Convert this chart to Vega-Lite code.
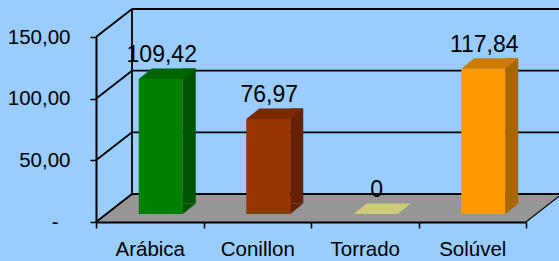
{
  "$schema": "https://vega.github.io/schema/vega-lite/v6.json",
  "width": 430,
  "height": 185,
  "autosize": {"type": "none"},
  "padding": {"left": 96, "top": 37, "right": 33, "bottom": 39},
  "background": "#99CCFF",
  "config": {
    "view": {"stroke": null},
    "font": "Liberation Sans",
    "locale": {"number": {"decimal": ",", "thousands": ".", "grouping": [3], "currency": ["", ""]}},
    "axisX": {"labelAngle": 0, "labelFontSize": 20.5, "labelColor": "#000000", "labelPadding": 11, "domainColor": "#000000", "domainWidth": 2, "tickColor": "#000000", "tickWidth": 1.5, "tickSize": 6, "tickBand": "extent", "grid": false},
    "axisY": {"labelFontSize": 20.5, "labelColor": "#000000", "domainColor": "#000000", "domainWidth": 2, "tickColor": "#000000", "tickWidth": 1.5, "tickSize": 6, "grid": false}
  },
  "datasets": {
    "cafe": [
      {"tipo": "Arábica", "valor": 109.42},
      {"tipo": "Conillon", "valor": 76.97},
      {"tipo": "Torrado", "valor": 0},
      {"tipo": "Solúvel", "valor": 117.84}
    ],
    "grade": [{"v": 0}, {"v": 50}, {"v": 100}, {"v": 150}],
    "piso": [{"parte": "chão"}]
  },
  "resolve": {"scale": {"color": "independent"}},
  "layer": [
    {
      "data": {"name": "piso"},
      "mark": {"type": "point", "shape": "M0,0 L430,0 L466,-28 L36,-28 Z", "size": 4, "filled": true, "fill": "#969696", "stroke": "#000000", "strokeWidth": 1.2, "opacity": 1},
      "encoding": {
        "x": {"datum": "Arábica", "type": "nominal", "bandPosition": 0, "title": null, "scale": {"domain": ["Arábica", "Conillon", "Torrado", "Solúvel"], "paddingInner": 0, "paddingOuter": 0}},
        "y": {"datum": 0, "type": "quantitative", "title": null, "scale": {"domain": [0, 150], "nice": false}, "axis": {"values": [0, 50, 100, 150], "format": ".2f", "labelExpr": "datum.value === 0 ? '-' : datum.label", "labelPadding": {"condition": {"test": "datum.value === 0", "value": 32}, "value": 20}}}
      }
    },
    {
      "data": {"name": "grade"},
      "mark": {"type": "rule", "color": "#000000", "strokeWidth": 1.8, "xOffset": 36, "x2Offset": 36, "yOffset": -28},
      "encoding": {
        "x": {"datum": "Arábica", "type": "nominal", "bandPosition": 0, "title": null},
        "x2": {"datum": "Solúvel", "bandPosition": 1},
        "y": {"field": "v", "type": "quantitative", "title": null}
      }
    },
    {
      "data": {"name": "piso"},
      "mark": {"type": "rule", "color": "#000000", "strokeWidth": 1.8, "xOffset": 36, "yOffset": -28, "y2Offset": -28},
      "encoding": {
        "x": {"datum": "Arábica", "type": "nominal", "bandPosition": 0, "title": null},
        "y": {"datum": 0, "type": "quantitative", "title": null},
        "y2": {"datum": 150}
      }
    },
    {
      "data": {"name": "grade"},
      "mark": {"type": "point", "shape": "M0,0 L36,-28", "size": 4, "filled": false, "stroke": "#000000", "strokeWidth": 1.8, "opacity": 1},
      "encoding": {
        "x": {"datum": "Arábica", "type": "nominal", "bandPosition": 0, "title": null},
        "y": {"field": "v", "type": "quantitative", "title": null}
      }
    },
    {
      "data": {"name": "cafe"},
      "mark": {"type": "bar", "size": 44, "xOffset": 11, "yOffset": -8, "y2Offset": -8},
      "encoding": {
        "x": {"field": "tipo", "type": "nominal", "sort": null, "title": null},
        "y": {"field": "valor", "type": "quantitative", "title": null},
        "color": {"field": "tipo", "type": "nominal", "legend": null, "scale": {"domain": ["Arábica", "Conillon", "Torrado", "Solúvel"], "range": ["#008000", "#993300", "#FFFF99", "#FF9900"]}}
      }
    },
    {
      "data": {"name": "cafe"},
      "mark": {"type": "bar", "size": 13, "xOffset": 39.5, "yOffset": -18.5, "y2Offset": -18.5},
      "encoding": {
        "x": {"field": "tipo", "type": "nominal", "sort": null, "title": null},
        "y": {"field": "valor", "type": "quantitative", "title": null},
        "color": {"field": "tipo", "type": "nominal", "legend": null, "scale": {"domain": ["Arábica", "Conillon", "Torrado", "Solúvel"], "range": ["#005500", "#662200", "#AAAA66", "#A86500"]}}
      }
    },
    {
      "data": {"name": "cafe"},
      "mark": {"type": "point", "shape": "M0,0 L13,-10.5 L0,-10.5 Z", "size": 4, "filled": true, "opacity": 1, "strokeWidth": 0, "xOffset": 33, "yOffset": -8},
      "encoding": {
        "x": {"field": "tipo", "type": "nominal", "sort": null, "title": null},
        "y": {"datum": 0, "type": "quantitative", "title": null},
        "color": {"field": "tipo", "type": "nominal", "legend": null, "scale": {"domain": ["Arábica", "Conillon", "Torrado", "Solúvel"], "range": ["#005500", "#662200", "#AAAA66", "#A86500"]}}
      }
    },
    {
      "data": {"name": "cafe"},
      "mark": {"type": "point", "shape": "M-22,0 L22,0 L35,-10.5 L-9,-10.5 Z", "size": 4, "filled": true, "opacity": 1, "strokeWidth": 0, "xOffset": 11, "yOffset": -8},
      "encoding": {
        "x": {"field": "tipo", "type": "nominal", "sort": null, "title": null},
        "y": {"field": "valor", "type": "quantitative", "title": null},
        "color": {"field": "tipo", "type": "nominal", "legend": null, "scale": {"domain": ["Arábica", "Conillon", "Torrado", "Solúvel"], "range": ["#006600", "#7A2900", "#CCCC7A", "#CC7A00"]}}
      }
    },
    {
      "data": {"name": "cafe"},
      "mark": {"type": "text", "fontSize": 23, "align": "center", "baseline": "alphabetic", "color": "#000000", "xOffset": 12, "yOffset": -25},
      "encoding": {
        "x": {"field": "tipo", "type": "nominal", "sort": null, "title": null},
        "y": {"field": "valor", "type": "quantitative", "title": null},
        "text": {"field": "valor", "type": "quantitative", "format": ".2~f"}
      }
    }
  ]
}
